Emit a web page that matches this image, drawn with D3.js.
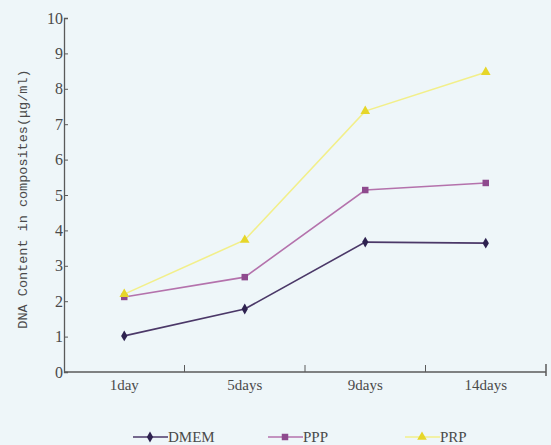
<!DOCTYPE html>
<html>
<head>
<meta charset="utf-8">
<script src="https://cdn.jsdelivr.net/npm/d3@7"></script>
<style>
  body { margin: 0; background: #eef6f9; }
  svg { display: block; }
</style>
</head>
<body>
<div id="chart"></div>
<script>
// Data
var categories = ["1day", "5days", "9days", "14days"];
var seriesNames = ["DMEM", "PPP", "PRP"];
var dmemValues = [1.02, 1.78, 3.67, 3.64];
var pppValues = [2.12, 2.68, 5.14, 5.34];
var prpValues = [2.2, 3.73, 7.37, 8.47];
var yTicks = [0, 1, 2, 3, 4, 5, 6, 7, 8, 9, 10];

var width = 551, height = 445;
var serif = "'Liberation Serif', 'Times New Roman', 'DejaVu Serif', serif";
var mono = "'Liberation Mono', 'Courier New', 'DejaVu Sans Mono', monospace";

var series = [
    {name: seriesNames[0], values: dmemValues, line: "#4b3868", fill: "#2e2250", symbol: d3.symbolDiamond, size: 34},
    {name: seriesNames[1], values: pppValues, line: "#b472ac", fill: "#8e4a8e", symbol: d3.symbolSquare, size: 42},
    {name: seriesNames[2], values: prpValues, line: "#f2ef8a", fill: "#e6d62a", symbol: d3.symbolTriangle, size: 40}
];

var svg = d3.select("#chart")
    .append("svg")
        .attr("width", width)
        .attr("height", height);

svg.append("rect")
    .attr("width", width)
    .attr("height", height)
    .attr("fill", "#eef6f9");

// Scales
var x = d3.scaleBand().domain(categories).range([64, 546]);
var y = d3.scaleLinear().domain([0, 10]).range([372, 18]);

var axisColor = "#5a5a5a";
var textColor = "#4a4a4a";

// Y axis, ticks pointing inwards
var yAxis = d3.axisRight(y).tickValues(yTicks).tickSize(4).tickFormat(d3.format("d"));
var gy = svg.append("g")
    .attr("transform", "translate(64,0)")
    .call(yAxis)
    .attr("font-family", null)
    .attr("font-size", null);
gy.select(".domain").attr("stroke", axisColor).attr("stroke-width", 1.3);
gy.selectAll(".tick line").attr("stroke", axisColor);
gy.selectAll(".tick text")
    .attr("x", -1)
    .attr("text-anchor", "end")
    .attr("fill", textColor)
    .style("font-family", serif)
    .style("font-size", "16px");

// X axis: labels in band centres, ticks on band edges
var gx = svg.append("g")
    .attr("transform", "translate(0,372)");
gx.append("line")
    .attr("x1", x.range()[0]).attr("x2", x.range()[1])
    .attr("stroke", axisColor).attr("stroke-width", 1.3);
gx.selectAll(".edge")
    .data(categories.slice(1))
    .enter().append("line")
        .attr("x1", function(d) { return x(d); })
        .attr("x2", function(d) { return x(d); })
        .attr("y1", 0).attr("y2", -7)
        .attr("stroke", axisColor);
gx.append("line")
    .attr("x1", x.range()[1]).attr("x2", x.range()[1])
    .attr("y1", 4).attr("y2", -8)
    .attr("stroke", axisColor).attr("stroke-width", 1.5);
gx.selectAll(".lbl")
    .data(categories)
    .enter().append("text")
        .attr("x", function(d) { return x(d) + x.bandwidth() / 2; })
        .attr("y", 18)
        .attr("text-anchor", "middle")
        .attr("fill", textColor)
        .style("font-family", serif)
        .style("font-size", "15px")
        .text(function(d) { return d; });

// Y axis title
svg.append("text")
    .attr("transform", "translate(27,199) rotate(-90)")
    .attr("text-anchor", "middle")
    .attr("fill", textColor)
    .style("font-family", mono)
    .style("font-size", "13.5px")
    .text("DNA Content in composites(\u03bcg/ml)");

// Lines and markers
var line = d3.line()
    .x(function(d, i) { return x(categories[i]) + x.bandwidth() / 2; })
    .y(function(d) { return y(d); });

series.forEach(function(s) {
    svg.append("path")
        .attr("d", line(s.values))
        .attr("fill", "none")
        .attr("stroke", s.line)
        .attr("stroke-width", 1.6);
    svg.selectAll(null)
        .data(s.values)
        .enter().append("path")
            .attr("d", d3.symbol().type(s.symbol).size(s.size))
            .attr("transform", function(d, i) {
                return "translate(" + (x(categories[i]) + x.bandwidth() / 2) + "," + y(d) + ")";
            })
            .attr("fill", s.fill);
});

// Legend
var legendX = [133, 268, 405];
series.forEach(function(s, i) {
    var g = svg.append("g").attr("transform", "translate(" + legendX[i] + ",437)");
    g.append("line")
        .attr("x1", 0).attr("x2", 35)
        .attr("stroke", s.line).attr("stroke-width", 1.6);
    g.append("path")
        .attr("d", d3.symbol().type(s.symbol).size(s.size))
        .attr("transform", "translate(17,0)")
        .attr("fill", s.fill);
    g.append("text")
        .attr("x", 35)
        .attr("y", 5)
        .attr("fill", textColor)
        .style("font-family", serif)
        .style("font-size", "15px")
        .text(s.name);
});
</script>
</body>
</html>
